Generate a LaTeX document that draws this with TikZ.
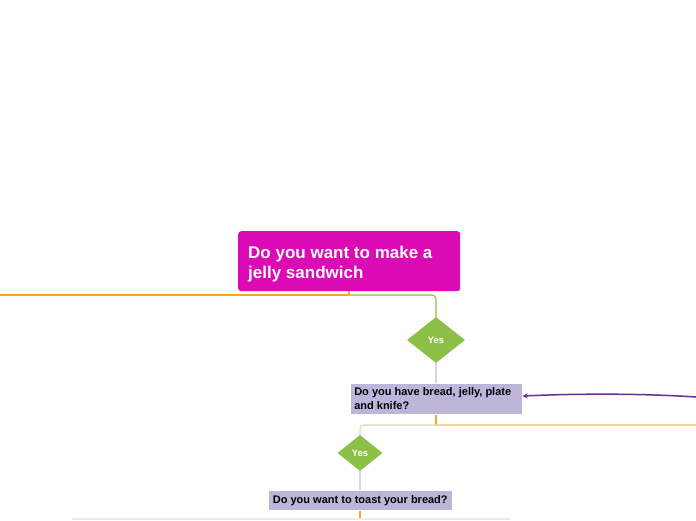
\documentclass[tikz,border=0pt]{standalone}
\usepackage{fontspec}
\setmainfont{Liberation Sans}
\usetikzlibrary{shapes.geometric,arrows.meta}
\definecolor{magentabox}{HTML}{DC0AB4}
\definecolor{lavbox}{HTML}{BDB6DA}
\definecolor{yesgreen}{HTML}{8BBF45}
\definecolor{orangeln}{HTML}{F4A62A}
\definecolor{lightorange}{HTML}{F9D39B}
\definecolor{lightgreen}{HTML}{C9E2A8}
\definecolor{lavline}{HTML}{D8D4EC}
\definecolor{purplearrow}{HTML}{6A2C91}
\definecolor{paleline}{HTML}{EFEBDA}
\tikzset{
  x=1pt,y=-1pt,
  mainbox/.style={fill=magentabox,rounded corners=3pt,text=white,font=\bfseries\fontsize{17}{20}\selectfont,align=left,anchor=north west,inner sep=0pt,minimum width=222pt,minimum height=60pt},
  qbox/.style={fill=lavbox,draw=white,line width=0.6pt,font=\bfseries\fontsize{11}{13.5}\selectfont,align=left,anchor=north west,inner xsep=4pt,inner ysep=0pt},
  yesd/.style={diamond,fill=yesgreen,text=white,font=\bfseries\fontsize{9.5}{10}\selectfont,inner sep=0pt,aspect=1.25},
}
\begin{document}
\begin{tikzpicture}
\useasboundingbox (0,0) rectangle (696,520);
% main question
\node[mainbox] (q1) at (238,231) {\hspace*{10pt}\parbox[c]{206pt}{\raggedright\vspace*{5pt}Do you want to make a\\jelly sandwich}\hspace*{6pt}};
\coordinate (j1) at (349,295);
\coordinate (leftend) at (0,295);
\draw[orangeln,line width=1.1pt] (q1.south -| j1) -- (j1);
\draw[orangeln,line width=1.1pt] (j1) -- (leftend);
% yes 1
\node[yesd,minimum width=58pt,minimum height=46pt] (y1) at (436,340) {Yes};
\draw[yesgreen,line width=1.1pt,rounded corners=4pt] (j1) -| (y1.north);
% question 2
\node[qbox,minimum width=172pt,minimum height=31pt] (q2) at (350,383) {\parbox{164pt}{Do you have bread, jelly, plate\\and knife?}};
\draw[lavline,line width=1.1pt] (y1.south) -- (y1.south |- q2.north);
\coordinate (j2) at (436,425);
\coordinate (rightend) at (696,425);
\draw[orangeln,line width=1.1pt] (q2.south -| j2) -- (j2);
\draw[lightorange,line width=1.1pt] (j2) -- (rightend);
% yes 2
\node[yesd,minimum width=45pt,minimum height=36pt] (y2) at (360,453) {Yes};
\draw[lightgreen,line width=1.1pt,rounded corners=4pt] (j2) -| (y2.north);
% question 3
\node[qbox,minimum width=184pt,minimum height=20pt] (q3) at (268,490) {Do you want to toast your bread?};
\draw[lavline,line width=1.1pt] (y2.south) -- (y2.south |- q3.north);
\coordinate (j3) at (360,519);
\coordinate (bl) at (72,519);
\coordinate (br) at (510,519);
\draw[orangeln,line width=1.1pt] (q3.south -| j3) -- (j3);
\draw[paleline,line width=1.1pt] (bl) -- (br);
% purple arrow
\coordinate (parr) at (696,397);
\draw[purplearrow,line width=1.5pt,-{Stealth[length=5pt,width=5pt]}] (parr) .. controls (650,394) and (590,393) .. (q2.east |- 0,396);
\end{tikzpicture}
\end{document}
